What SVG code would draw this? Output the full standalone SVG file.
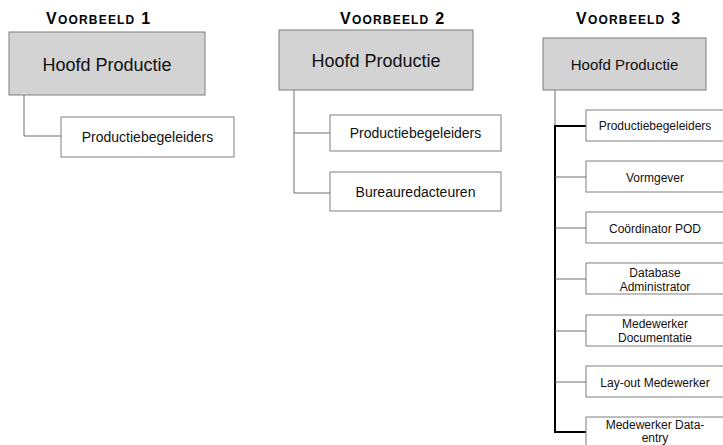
<svg xmlns="http://www.w3.org/2000/svg" width="723" height="445" viewBox="0 0 723 445">
<style>
.head{fill:#d3d3d3;stroke:#7f7f7f;stroke-width:1}
.box{fill:#fff;stroke:#7f7f7f;stroke-width:1}
.t{font-family:"Liberation Sans",Arial,sans-serif;fill:#111;text-anchor:middle}
.ttl{font-family:"Liberation Sans",Arial,sans-serif;font-weight:bold;fill:#000;letter-spacing:1.2px}
.c{fill:none;stroke:#6e6e6e;stroke-width:1}
.ck{fill:none;stroke:#000;stroke-width:2}
</style>
<rect width="723" height="445" fill="#fff"/>
<g id="titles">
<text class="ttl" x="46" y="24"><tspan font-size="16">V</tspan><tspan font-size="12">OORBEELD</tspan><tspan font-size="16"> 1</tspan></text>
<text class="ttl" x="340" y="24"><tspan font-size="16">V</tspan><tspan font-size="12">OORBEELD</tspan><tspan font-size="16"> 2</tspan></text>
<text class="ttl" x="576" y="24"><tspan font-size="16">V</tspan><tspan font-size="12">OORBEELD</tspan><tspan font-size="16"> 3</tspan></text>
</g>
<g id="connectors">
<polyline class="c" points="24,95 24,136 61,136"/>
<polyline class="c" points="294,90 294,193 330,193"/>
<line class="c" x1="294" y1="133" x2="330" y2="133"/>
<line class="c" x1="555" y1="90" x2="555" y2="126"/>
<polyline class="ck" points="586,126 555,126 555,432 586,432"/>
<line class="c" x1="555" y1="177" x2="586" y2="177"/>
<line class="c" x1="555" y1="228" x2="586" y2="228"/>
<line class="c" x1="555" y1="279" x2="586" y2="279"/>
<line class="c" x1="555" y1="331" x2="586" y2="331"/>
<line class="c" x1="555" y1="382" x2="586" y2="382"/>
</g>
<g id="v1-head"><rect class="head" x="9" y="32" width="196" height="63"/><text class="t" x="107" y="71" font-size="18">Hoofd Productie</text></g>
<g id="v1-prod"><rect class="box" x="61" y="117" width="173" height="40"/><text class="t" x="147.5" y="142" font-size="14">Productiebegeleiders</text></g>
<g id="v2-head"><rect class="head" x="279" y="30" width="194" height="60"/><text class="t" x="376" y="67" font-size="18">Hoofd Productie</text></g>
<g id="v2-prod"><rect class="box" x="330" y="115" width="171" height="36"/><text class="t" x="415.5" y="138" font-size="14">Productiebegeleiders</text></g>
<g id="v2-bureau"><rect class="box" x="330" y="172" width="171" height="39"/><text class="t" x="415.5" y="197" font-size="14">Bureauredacteuren</text></g>
<g id="v3-head"><rect class="head" x="543" y="38" width="163" height="52"/><text class="t" x="624.5" y="70" font-size="15">Hoofd Productie</text></g>
<g id="v3-prod"><rect class="box" x="586" y="110" width="140" height="31"/><text class="t" x="655" y="130" font-size="12">Productiebegeleiders</text></g>
<g id="v3-vorm"><rect class="box" x="586" y="161" width="140" height="31"/><text class="t" x="655" y="182" font-size="12">Vormgever</text></g>
<g id="v3-coord"><rect class="box" x="586" y="212" width="140" height="31"/><text class="t" x="655" y="233" font-size="12">Coördinator POD</text></g>
<g id="v3-db"><rect class="box" x="586" y="263" width="140" height="31"/><text class="t" x="655" y="277" font-size="12">Database</text><text class="t" x="655" y="291" font-size="12">Administrator</text></g>
<g id="v3-doc"><rect class="box" x="586" y="315" width="140" height="31"/><text class="t" x="655" y="328" font-size="12">Medewerker</text><text class="t" x="655" y="342" font-size="12">Documentatie</text></g>
<g id="v3-layout"><rect class="box" x="586" y="366" width="140" height="31"/><text class="t" x="655" y="387" font-size="12">Lay-out Medewerker</text></g>
<g id="v3-data"><rect class="box" x="586" y="417" width="140" height="40"/><text class="t" x="655" y="429" font-size="12">Medewerker Data-</text><text class="t" x="655" y="442" font-size="12">entry</text></g>
</svg>
